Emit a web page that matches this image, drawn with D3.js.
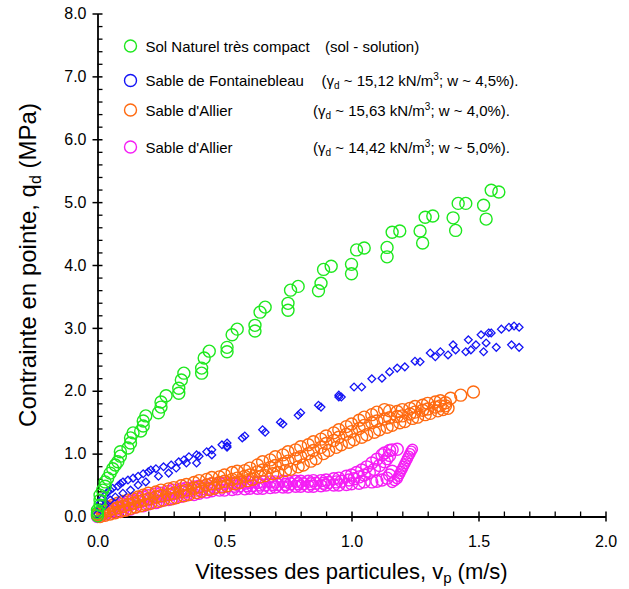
<!DOCTYPE html>
<html><head><meta charset="utf-8">
<script src="https://cdn.jsdelivr.net/npm/d3@7"></script>
<style>body{margin:0;background:#fff}text{font-family:Arial,"Liberation Sans",sans-serif;fill:#000}</style>
</head><body><svg id="c" width="629" height="589"></svg>
<script>
// ---- data ----
const xTicks=[0,0.5,1.0,1.5,2.0];
const yTicks=[0,1,2,3,4,5,6,7,8];
const xMinor=[0.1,0.2,0.3,0.4,0.6,0.7,0.8,0.9,1.1,1.2,1.3,1.4,1.6,1.7,1.8,1.9];
const yMinor=[0.2,0.4,0.6,0.8,1.2,1.4,1.6,1.8,2.2,2.4,2.6,2.8,3.2,3.4,3.6,3.8,4.2,4.4,4.6,4.8,5.2,5.4,5.6,5.8,6.2,6.4,6.6,6.8,7.2,7.4,7.6,7.8];
const xTitle="Vitesses des particules, v";
const yTitle="Contrainte en pointe, q";

// Sol Naturel très compact (green circles)
const green=[[0.00,0.01],[0.00,0.06],[0.00,0.10],[0.01,0.18],[0.01,0.26],[0.01,0.34],[0.02,0.42],[0.03,0.48],[0.03,0.55],[0.04,0.61],[0.05,0.69],[0.06,0.76],[0.07,0.82],[0.08,0.87],[0.09,0.96],[0.09,1.03],[0.12,1.09],[0.13,1.17],[0.13,1.25],[0.14,1.33],[0.17,1.36],[0.18,1.44],[0.18,1.52],[0.19,1.60],[0.24,1.65],[0.25,1.74],[0.25,1.82],[0.27,1.92],[0.32,1.96],[0.32,2.04],[0.33,2.17],[0.34,2.28],[0.41,2.28],[0.41,2.36],[0.42,2.52],[0.44,2.63],[0.51,2.62],[0.51,2.69],[0.53,2.89],[0.55,2.98],[0.62,2.95],[0.62,3.04],[0.64,3.25],[0.66,3.33],[0.75,3.28],[0.75,3.39],[0.76,3.60],[0.79,3.66],[0.87,3.59],[0.88,3.71],[0.89,3.93],[0.92,3.98],[1.00,3.86],[1.00,4.01],[1.02,4.24],[1.05,4.27],[1.14,4.13],[1.14,4.28],[1.16,4.52],[1.19,4.54],[1.27,4.54],[1.28,4.35],[1.29,4.76],[1.32,4.78],[1.40,4.75],[1.41,4.55],[1.42,4.98],[1.45,4.98],[1.52,4.95],[1.53,4.73],[1.55,5.19],[1.58,5.16]];

// Sable de Fontainebleau (blue diamonds)
const blue=[[0.00,0.04],[0.01,0.14],[0.01,0.21],[0.02,0.29],[0.03,0.34],[0.04,0.39],[0.05,0.42],[0.06,0.45],[0.08,0.48],[0.09,0.52],[0.10,0.55],[0.12,0.58],[0.14,0.61],[0.16,0.64],[0.18,0.68],[0.20,0.71],[0.21,0.74],[0.23,0.76],[0.26,0.79],[0.29,0.82],[0.32,0.87],[0.34,0.90],[0.36,0.95],[0.39,0.98],[0.40,0.96],[0.43,1.03],[0.45,1.06],[0.49,1.14],[0.51,1.17],[0.51,1.12],[0.57,1.25],[0.58,1.28],[0.65,1.38],[0.66,1.34],[0.72,1.50],[0.73,1.47],[0.79,1.61],[0.80,1.65],[0.87,1.77],[0.88,1.74],[0.95,1.93],[0.95,1.90],[0.96,1.90],[1.01,2.06],[1.04,2.06],[1.08,2.19],[1.12,2.20],[1.15,2.30],[1.18,2.36],[1.21,2.38],[1.25,2.47],[1.27,2.46],[1.31,2.60],[1.33,2.54],[1.35,2.62],[1.38,2.57],[1.40,2.73],[1.41,2.65],[1.45,2.62],[1.46,2.81],[1.47,2.65],[1.49,2.73],[1.51,2.89],[1.52,2.62],[1.53,2.76],[1.54,2.92],[1.55,2.92],[1.57,2.69],[1.59,2.98],[1.62,3.01],[1.63,2.73],[1.64,3.03],[1.66,3.01],[1.66,2.69],
[0.03,0.18],[0.05,0.26],[0.07,0.31],[0.10,0.37],[0.13,0.42],[0.16,0.50],[0.19,0.55],[0.24,0.64],[0.28,0.69],[0.31,0.77],[0.35,0.85],[0.39,0.85],[0.45,0.98],[0.51,1.10]];

// Sable d'Allier 15,63 (orange circles) — upper, middle and lower parts of the band
const orangeUpper=[[0.00,0.04],[0.02,0.10],[0.04,0.15],[0.06,0.18],[0.08,0.21],[0.10,0.24],[0.12,0.26],[0.14,0.28],[0.16,0.31],[0.18,0.34],[0.20,0.37],[0.23,0.39],[0.25,0.42],[0.28,0.44],[0.30,0.46],[0.33,0.49],[0.35,0.51],[0.38,0.54],[0.40,0.57],[0.43,0.59],[0.45,0.62],[0.48,0.63],[0.50,0.66],[0.53,0.70],[0.55,0.72],[0.58,0.73],[0.60,0.77],[0.63,0.82],[0.65,0.87],[0.68,0.90],[0.70,0.95],[0.73,0.98],[0.75,1.03],[0.78,1.06],[0.80,1.11],[0.83,1.14],[0.85,1.19],[0.88,1.23],[0.90,1.28],[0.93,1.33],[0.95,1.38],[0.98,1.43],[1.00,1.47],[1.03,1.53],[1.05,1.58],[1.08,1.62],[1.10,1.66],[1.13,1.70],[1.15,1.68],[1.18,1.67],[1.20,1.70],[1.23,1.72],[1.25,1.75],[1.28,1.77],[1.30,1.80],[1.33,1.82],[1.35,1.84],[1.37,1.81],[1.39,1.88],[1.43,1.93],[1.48,1.98]];
const orangeMid=[[0.00,0.02],[0.02,0.05],[0.04,0.09],[0.06,0.12],[0.08,0.14],[0.10,0.16],[0.12,0.19],[0.14,0.21],[0.16,0.24],[0.18,0.26],[0.20,0.28],[0.23,0.31],[0.25,0.33],[0.28,0.35],[0.30,0.37],[0.33,0.40],[0.35,0.42],[0.38,0.45],[0.40,0.47],[0.43,0.50],[0.45,0.52],[0.48,0.54],[0.50,0.56],[0.53,0.59],[0.55,0.61],[0.58,0.64],[0.60,0.66],[0.63,0.71],[0.65,0.74],[0.68,0.78],[0.70,0.81],[0.73,0.84],[0.75,0.88],[0.78,0.92],[0.80,0.95],[0.83,1.00],[0.85,1.05],[0.88,1.10],[0.90,1.16],[0.93,1.21],[0.95,1.26],[0.98,1.31],[1.00,1.35],[1.03,1.40],[1.05,1.45],[1.08,1.49],[1.10,1.52],[1.13,1.55],[1.15,1.57],[1.18,1.59],[1.20,1.60],[1.23,1.63],[1.25,1.66],[1.28,1.69],[1.30,1.71],[1.33,1.74],[1.35,1.76],[1.37,1.76]];
const orangeLower=[[0.01,0.00],[0.03,0.02],[0.05,0.04],[0.07,0.06],[0.09,0.08],[0.11,0.10],[0.13,0.13],[0.15,0.15],[0.17,0.17],[0.19,0.19],[0.21,0.21],[0.24,0.24],[0.26,0.26],[0.29,0.28],[0.31,0.30],[0.34,0.33],[0.36,0.35],[0.39,0.38],[0.41,0.40],[0.44,0.43],[0.46,0.45],[0.49,0.47],[0.51,0.49],[0.54,0.52],[0.56,0.54],[0.59,0.57],[0.61,0.59],[0.64,0.63],[0.66,0.65],[0.69,0.68],[0.71,0.70],[0.74,0.73],[0.76,0.75],[0.79,0.79],[0.81,0.82],[0.84,0.88],[0.86,0.92],[0.89,1.00],[0.91,1.05],[0.94,1.10],[0.96,1.14],[0.99,1.18],[1.01,1.22],[1.04,1.26],[1.06,1.30],[1.09,1.34],[1.11,1.38],[1.14,1.42],[1.16,1.45],[1.19,1.49],[1.21,1.51],[1.24,1.56],[1.26,1.58],[1.29,1.62],[1.31,1.64],[1.34,1.68],[1.36,1.70],[1.38,1.72]];

// Sable d'Allier 14,42 (magenta circles)
const pinkUpper=[[0.00,0.04],[0.02,0.07],[0.04,0.10],[0.06,0.13],[0.08,0.17],[0.10,0.20],[0.12,0.23],[0.14,0.25],[0.16,0.28],[0.18,0.31],[0.20,0.33],[0.23,0.36],[0.25,0.37],[0.28,0.40],[0.30,0.42],[0.33,0.44],[0.35,0.45],[0.38,0.47],[0.40,0.48],[0.43,0.50],[0.45,0.52],[0.48,0.53],[0.50,0.53],[0.53,0.53],[0.55,0.53],[0.58,0.53],[0.60,0.54],[0.63,0.54],[0.65,0.55],[0.68,0.55],[0.70,0.55],[0.73,0.56],[0.75,0.56],[0.78,0.56],[0.80,0.56],[0.83,0.56],[0.85,0.57],[0.88,0.57],[0.90,0.58],[0.93,0.60],[0.95,0.61],[0.98,0.64],[1.00,0.66],[1.02,0.70],[1.04,0.74],[1.06,0.79],[1.08,0.85],[1.10,0.91],[1.12,0.98],[1.13,1.01],[1.15,1.05],[1.16,1.06],[1.18,1.07]];
const pinkMid=[[0.01,0.02],[0.03,0.05],[0.05,0.08],[0.07,0.11],[0.09,0.14],[0.11,0.16],[0.13,0.19],[0.15,0.21],[0.17,0.24],[0.19,0.26],[0.21,0.28],[0.24,0.31],[0.26,0.33],[0.29,0.35],[0.31,0.37],[0.34,0.39],[0.36,0.41],[0.39,0.42],[0.41,0.44],[0.44,0.45],[0.46,0.47],[0.49,0.48],[0.51,0.48],[0.54,0.48],[0.56,0.49],[0.59,0.49],[0.61,0.49],[0.64,0.50],[0.66,0.50],[0.69,0.51],[0.71,0.51],[0.74,0.51],[0.76,0.52],[0.79,0.52],[0.81,0.52],[0.84,0.52],[0.86,0.53],[0.89,0.53],[0.91,0.54],[0.94,0.55],[0.96,0.56],[0.99,0.58],[1.01,0.60],[1.03,0.63],[1.05,0.66],[1.07,0.70],[1.09,0.75],[1.11,0.81],[1.13,0.87],[1.14,0.92],[1.15,0.97]];
const pinkLower=[[0.00,0.00],[0.03,0.04],[0.05,0.07],[0.08,0.08],[0.10,0.10],[0.13,0.12],[0.15,0.15],[0.18,0.17],[0.20,0.20],[0.23,0.22],[0.25,0.25],[0.28,0.27],[0.30,0.29],[0.33,0.32],[0.35,0.34],[0.38,0.35],[0.40,0.37],[0.43,0.39],[0.45,0.41],[0.48,0.42],[0.50,0.42],[0.53,0.43],[0.55,0.44],[0.58,0.44],[0.60,0.45],[0.63,0.45],[0.65,0.45],[0.68,0.46],[0.70,0.47],[0.73,0.47],[0.75,0.47],[0.78,0.48],[0.80,0.48],[0.83,0.48],[0.85,0.48],[0.88,0.49],[0.90,0.50],[0.93,0.50],[0.95,0.50],[0.98,0.51],[1.00,0.52],[1.03,0.53],[1.05,0.55],[1.08,0.55],[1.10,0.56],[1.12,0.58],[1.14,0.61],[1.15,0.66],[1.16,0.72]];
const pinkProng=[[1.16,0.54],[1.17,0.57],[1.18,0.60],[1.185,0.64],[1.19,0.68],[1.195,0.72],[1.20,0.76],[1.205,0.80],[1.21,0.84],[1.215,0.88],[1.22,0.92],[1.225,0.96],[1.23,1.00],[1.235,1.04],[1.24,1.07]];

const legendNames=["Sol Naturel très compact","Sable de Fontainebleau","Sable d'Allier","Sable d'Allier"];
const legendProps=[
  {pre:"(sol - solution)",gamma:null},
  {gamma:"15,12",w:"4,5%"},
  {gamma:"15,63",w:"4,0%"},
  {gamma:"14,42",w:"5,0%"}];
const colors=["#1ee81e","#1414f5","#ff6a10","#f51ef5"];

// ---- drawing ----
const svg=d3.select("#c");
const x=d3.scaleLinear().domain([0,2]).range([97.5,605.5]);
const y=d3.scaleLinear().domain([0,8]).range([516.5,13.5]);
const x0=x(0), y0=y(0);

// y axis
const gy=svg.append("g").attr("transform",`translate(${x0},0)`)
  .call(d3.axisLeft(y).tickValues(yTicks).tickFormat(d3.format(".1f")).tickSizeOuter(0).tickSizeInner(5).tickPadding(6));
gy.selectAll(".tick line").attr("x1",5).attr("x2",-5).attr("stroke-width",1.5);
gy.select(".domain").attr("stroke-width",1.8);
gy.selectAll("text").style("font-size","16px");
const gym=svg.append("g").attr("transform",`translate(${x0},0)`)
  .call(d3.axisRight(y).tickValues(yMinor).tickFormat("").tickSizeOuter(0).tickSizeInner(5));
gym.select(".domain").remove();
gym.selectAll(".tick line").attr("stroke-width",1.3);

// x axis
const gx=svg.append("g").attr("transform",`translate(0,${y0})`)
  .call(d3.axisBottom(x).tickValues(xTicks).tickFormat(d3.format(".1f")).tickSizeOuter(0).tickSizeInner(5).tickPadding(14));
gx.selectAll(".tick line").attr("y1",-5).attr("y2",5).attr("stroke-width",1.5);
gx.select(".domain").attr("stroke-width",1.8);
gx.selectAll("text").style("font-size","16px");
const gxm=svg.append("g").attr("transform",`translate(0,${y0})`)
  .call(d3.axisTop(x).tickValues(xMinor).tickFormat("").tickSizeOuter(0).tickSizeInner(5));
gxm.select(".domain").remove();
gxm.selectAll(".tick line").attr("stroke-width",1.3);

// titles
const xt=svg.append("text").attr("x",(x(0)+x(2))/2).attr("y",579).attr("text-anchor","middle").style("font-size","22px");
xt.append("tspan").text(xTitle);
xt.append("tspan").attr("dy",4).style("font-size","15px").text("p");
xt.append("tspan").attr("dy",-4).text(" (m/s)");
const yt=svg.append("text").attr("transform",`translate(36,${(y(0)+y(8))/2}) rotate(-90)`).attr("text-anchor","middle").style("font-size","24px");
yt.append("tspan").text(yTitle);
yt.append("tspan").attr("dy",5).style("font-size","16px").text("d");
yt.append("tspan").attr("dy",-5).text(" (MPa)");

// marks
function circles(data,color,r){
  svg.append("g").selectAll("circle").data(data).join("circle")
    .attr("cx",d=>x(d[0])).attr("cy",d=>y(d[1])).attr("r",r)
    .attr("fill","none").attr("stroke",color).attr("stroke-width",1.4);
}
circles(pinkLower,colors[3],6);
circles(pinkMid,colors[3],6);
circles(pinkUpper,colors[3],6);
circles(pinkProng,colors[3],5);
circles(orangeLower,colors[2],6);
circles(orangeMid,colors[2],6);
circles(orangeUpper,colors[2],6);
const diamond=d3.symbol().type(d3.symbolDiamond2).size(38);
svg.append("g").selectAll("path").data(blue).join("path")
  .attr("transform",d=>`translate(${x(d[0])},${y(d[1])})`)
  .attr("d",diamond).attr("fill","none").attr("stroke",colors[1]).attr("stroke-width",1.3);
circles(green,colors[0],6);

// legend
const legY=[46,80.5,110,147];
const lg=svg.append("g");
legendNames.forEach((n,i)=>{
  lg.append("circle").attr("cx",130.5).attr("cy",legY[i]).attr("r",6).attr("fill","none").attr("stroke",colors[i]).attr("stroke-width",1.4);
  lg.append("text").attr("x",145.5).attr("y",legY[i]+5.5).style("font-size","15px").text(n);
  const p=legendProps[i];
  if(p.gamma===null){
    lg.append("text").attr("x",325).attr("y",legY[i]+5.5).style("font-size","15px").text(p.pre);
  } else {
    const t=lg.append("text").attr("x",i===1?321.5:313).attr("y",legY[i]+5.5).style("font-size","15px");
    t.append("tspan").text("(γ");
    t.append("tspan").attr("dy",3).style("font-size","10px").text("d");
    t.append("tspan").attr("dy",-3).text(` ~ ${p.gamma} kN/m`);
    t.append("tspan").attr("dy",-6).style("font-size","10px").text("3");
    t.append("tspan").attr("dy",6).text(`; w ~ ${p.w}).`);
  }
});
</script></body></html>
